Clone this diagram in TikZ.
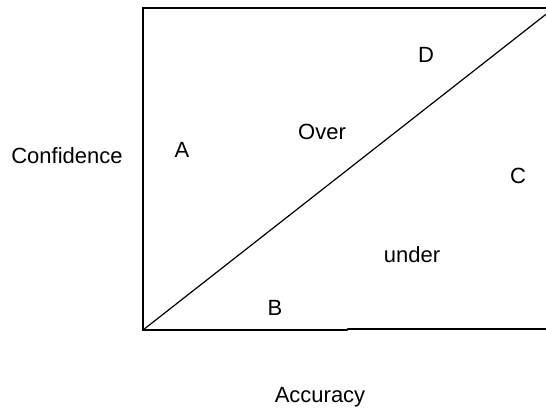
\documentclass[tikz,border=0pt]{standalone}
\usepackage{fontspec}
\setmainfont{Liberation Sans}
\begin{document}
\begin{tikzpicture}[x=1pt,y=-1pt,
    lbl/.style={anchor=base,inner sep=0pt,font=\fontsize{22}{26}\selectfont}]
      % Batas gambar
      \useasboundingbox (0,0) rectangle (546,412);

      % Koordinat titik sudut kotak
      \coordinate (SW) at (143,330);
      \coordinate (NW) at (143,8);
      \coordinate (NE) at (554,8);
      \coordinate (SE) at (554,329);
      \coordinate (J1) at (347,330);
      \coordinate (J2) at (348,329);

      % Kotak dan garis diagonal
      \draw[line width=1.6pt] (SE) -- (J2) -- (J1) -- (SW) -- (NW) -- (NE);
      \draw[line width=1.2pt] (SW) -- (NE);

      % Label sumbu
      \node[lbl] (conf) at (67,163) {Confidence};
      \node[lbl] (acc) at (320,402) {Accuracy};

      % Label daerah
      \node[lbl] (A) at (182,157) {A};
      \node[lbl] (B) at (275,315) {B};
      \node[lbl] (C) at (518,183) {C};
      \node[lbl] (D) at (426,63) {D};
      \node[lbl] (over) at (322,139) {Over};
      \node[lbl] (under) at (412,262) {under};
    \end{tikzpicture}
\end{document}
